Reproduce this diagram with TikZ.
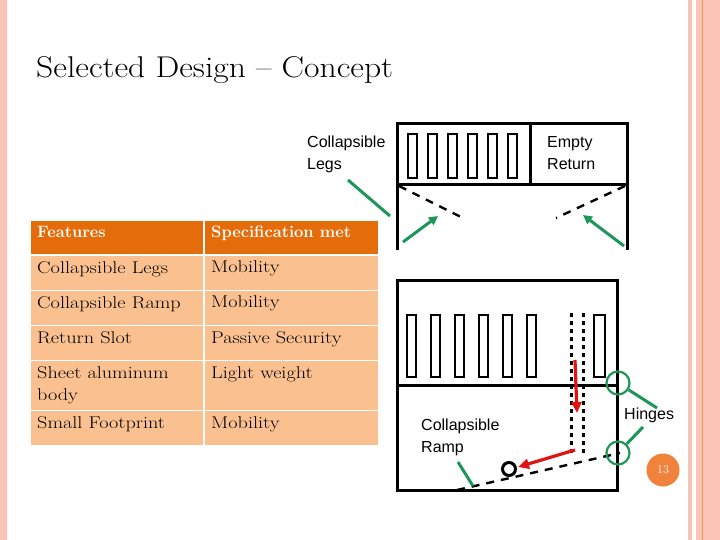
\documentclass[tikz,border=0pt]{standalone}
\usepackage{fontspec}
\setmainfont{Latin Modern Roman}
\newfontfamily\sans{Liberation Sans}
\newfontfamily\wide{Latin Modern Roman}[FakeStretch=1.19,Ligatures=TeX]
\newfontfamily\wbold{Latin Modern Roman}[FakeStretch=1.0,Ligatures=TeX]
\newfontfamily\wtitle{Latin Modern Roman}[FakeStretch=1.12,Ligatures=TeX]
\usetikzlibrary{arrows.meta}
\definecolor{hdr}{RGB}{228,108,10}
\definecolor{cell}{RGB}{250,192,143}
\definecolor{pinkb}{RGB}{250,196,180}
\definecolor{gr}{RGB}{30,150,90}
\definecolor{rd}{RGB}{225,20,20}
\definecolor{numc}{RGB}{240,130,60}
\begin{document}
\begin{tikzpicture}[x=1pt,y=-1pt,
  lbl/.style={font=\sans\fontsize{16}{22}\selectfont,align=left,anchor=north west,inner sep=0},
  tcell/.style={anchor=north west,inner sep=0,font=\wide\fontsize{17}{22}\selectfont,align=left},
  blk/.style={line width=3pt,black},
  slot/.style={line width=2.2pt,black},
  grl/.style={gr,line width=3pt},
  gra/.style={gr,line width=3pt,-{Triangle[length=9pt,width=9pt]}},
  rda/.style={rd,line width=3.2pt,-{Triangle[length=11pt,width=10pt]}},
  dsh/.style={black,line width=2.4pt,dash pattern=on 8pt off 7pt}]
\useasboundingbox (0,0) rectangle (720,540);
\fill[white] (0,0) rectangle (720,540);
% borders
\fill[pinkb] (0,0) rectangle (7,540);
\fill[pinkb] (688,0) rectangle (692,540);
\fill[pinkb] (696,0) rectangle (720,540);
\draw[numc!70!pinkb,line width=0.8pt] (702,0) -- (702,540);
% title
\node[anchor=base west,inner sep=0,font=\wtitle\fontsize{30}{34}\selectfont] (title) at (36,78) {Selected Design \textendash{} Concept};
% table
\foreach \ya/\yb/\c in {221/254/hdr,256/290/cell,291/325/cell,326/360/cell,361/410/cell,411/445/cell}{
  \fill[\c] (31,\ya) rectangle (203,\yb);
  \fill[\c] (205,\ya) rectangle (378,\yb);
}
\node[tcell,text=white,font=\wbold\bfseries\fontsize{16.5}{22}\selectfont] (h1) at (37,226) {Features};
\node[tcell,text=white,font=\wbold\bfseries\fontsize{16.5}{22}\selectfont] (h2) at (211,226) {Specification met};
\node[tcell] (a1) at (37,261) {Collapsible Legs};
\node[tcell] (b1) at (211,261) {Mobility};
\node[tcell] (a2) at (37,296) {Collapsible Ramp};
\node[tcell] (b2) at (211,296) {Mobility};
\node[tcell] (a3) at (37,331) {Return Slot};
\node[tcell] (b3) at (211,331) {Passive Security};
\node[tcell] (a4) at (37,366) {Sheet aluminum\\body};
\node[tcell] (b4) at (211,366) {Light weight};
\node[tcell] (a5) at (37,416) {Small Footprint};
\node[tcell] (b5) at (211,416) {Mobility};
% top drawing
\draw[blk] (397,250) -- (397,124) -- (627,124) -- (627,250);
\draw[blk] (397,185) -- (627,185);
\draw[blk] (530,124) -- (530,185);
\foreach \i in {0,...,5}{
  \draw[slot] ({408+20*\i},134) rectangle ({417+20*\i},178);
}
\node[lbl] (elab) at (547,136) {Empty\\Return};
\node[lbl] (clegs) at (307,136) {Collapsible\\Legs};
\coordinate (dl1) at (399,186); \coordinate (dl2) at (463,218);
\coordinate (dr1) at (625,186); \coordinate (dr2) at (556,218);
\draw[dsh] (dl1) -- (dl2);
\draw[dsh] (dr1) -- (dr2);
\coordinate (gl0) at (348,180); \coordinate (gl1) at (390,216);
\draw[grl] (gl0) -- (gl1);
\coordinate (ga0) at (403,242); \coordinate (ga1) at (438,216);
\draw[gra] (ga0) -- (ga1);
\coordinate (gb0) at (624,246); \coordinate (gb1) at (583,215);
\draw[gra] (gb0) -- (gb1);
% bottom drawing
\draw[blk] (397,280) rectangle (617,490);
\draw[blk] (397,385) -- (617,385);
\foreach \i in {0,...,5}{
  \draw[slot] ({407+24*\i},315) rectangle ({416+24*\i},377);
}
\draw[slot] (594,315) rectangle (605,377);
\draw[black,line width=3pt,dash pattern=on 4pt off 4pt] (571,313) -- (571,453);
\draw[black,line width=3pt,dash pattern=on 4pt off 4pt] (583,313) -- (583,453);
\coordinate (r1) at (457,490); \coordinate (r2) at (620,453);
\draw[dsh] (r1) -- (r2);
\node[draw,black,line width=3pt,circle,minimum size=13pt,inner sep=0,fill=white] (wheel) at (509,469) {};
\coordinate (ra0) at (575,360); \coordinate (ra1) at (577,413);
\draw[rda] (ra0) -- (ra1);
\coordinate (rb0) at (575,450); \coordinate (rb1) at (518,467);
\draw[rda] (rb0) -- (rb1);
\node[draw,gr,line width=2.2pt,circle,minimum size=23pt,inner sep=0] (h1c) at (618,383) {};
\node[draw,gr,line width=2.2pt,circle,minimum size=23pt,inner sep=0] (h2c) at (618,453) {};
\node[lbl] (hing) at (624,408) {Hinges};
\coordinate (hl0) at (657,408); \coordinate (hl1) at (643,427);
\draw[grl] (hl0) -- (h1c);
\draw[grl] (hl1) -- (h2c);
\node[lbl] (cramp) at (421,419) {Collapsible\\Ramp};
\coordinate (cr0) at (458,462); \coordinate (cr1) at (473,486);
\draw[grl] (cr0) -- (cr1);
% page number
\node[circle,fill=numc,minimum size=33pt,inner sep=0,text=white,font=\fontsize{12}{14}\selectfont] (num) at (663,470) {13};
\end{tikzpicture}
\end{document}
